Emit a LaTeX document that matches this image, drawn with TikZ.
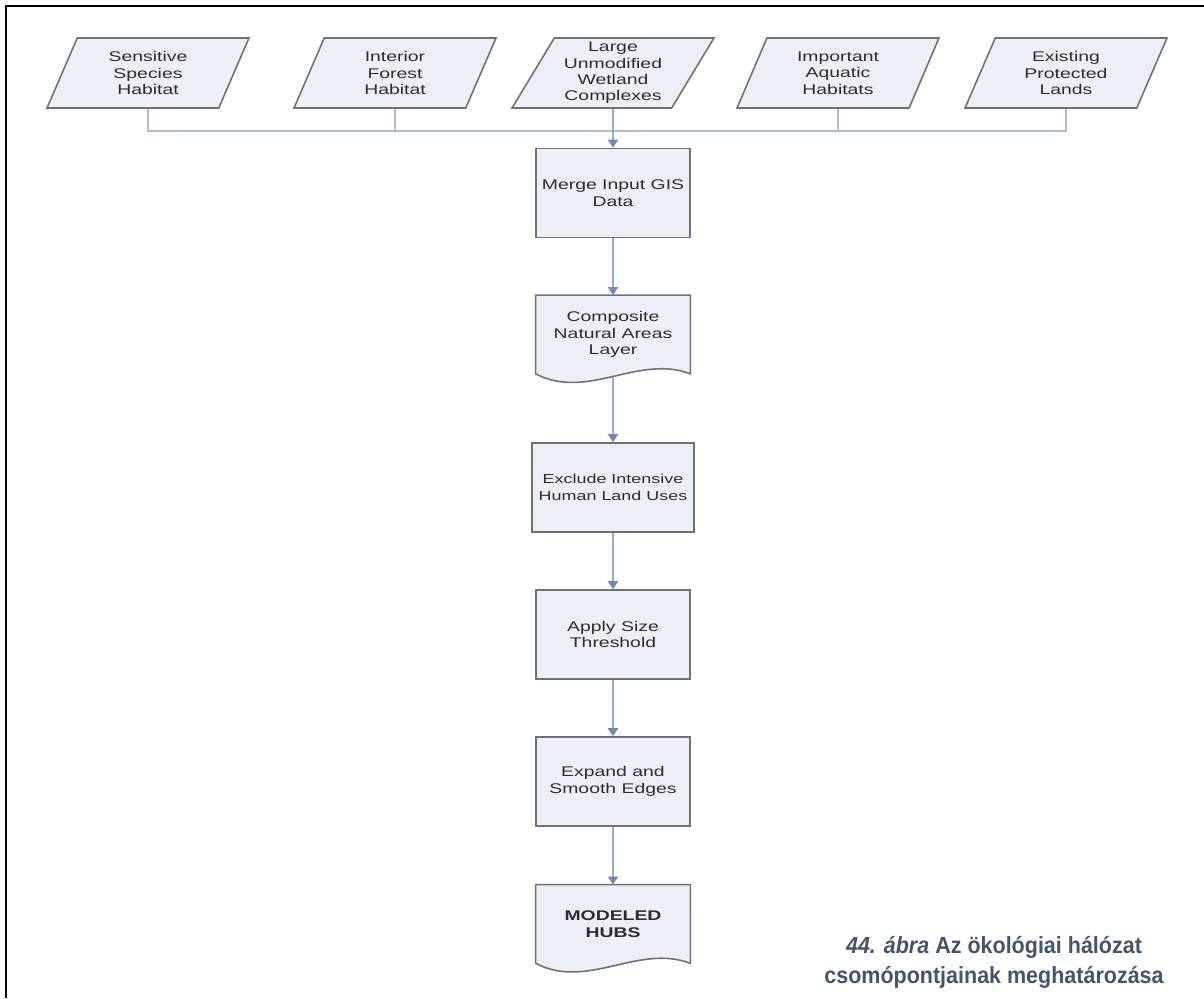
\documentclass[tikz,border=0pt]{standalone}
\usepackage{fontspec}
\usepackage{xcolor}
\usepackage{tikz}
\usetikzlibrary{shapes.geometric, arrows.meta, positioning, calc, backgrounds}
\newfontfamily\boxfont[FakeStretch=1.38]{Liberation Sans}
\newfontfamily\capfont[FakeStretch=0.92]{Liberation Sans}
\definecolor{boxfill}{RGB}{236,239,245}
\definecolor{boxline}{RGB}{112,112,118}
\definecolor{boxtext}{RGB}{45,45,45}
\definecolor{busgray}{RGB}{178,186,200}
\definecolor{flowblue}{RGB}{150,168,210}
\definecolor{flowhead}{RGB}{115,135,185}
\definecolor{capblue}{RGB}{68,84,106}
\tikzset{
  inputnode/.style={trapezium, trapezium left angle=57, trapezium right angle=123,
    trapezium stretches body=true, draw=boxline, fill=boxfill, line width=0.9pt,
    minimum width=4.04cm, minimum height=1.4cm, inner sep=1pt, align=center,
    text=boxtext, font=\boxfont\fontsize{8}{9.3}\selectfont},
  procnode/.style={rectangle, draw=boxline, fill=boxfill, line width=0.9pt,
    minimum width=3.08cm, minimum height=1.78cm, inner sep=2pt, align=center,
    text=boxtext, font=\boxfont\fontsize{8}{9.6}\selectfont},
  docnode/.style={rectangle, minimum width=3.08cm, minimum height=1.56cm,
    inner sep=2pt, align=center, text=boxtext,
    font=\boxfont\fontsize{8}{9.3}\selectfont},
  docshape/.style={draw=boxline, fill=boxfill, line width=0.9pt},
  bus/.style={line width=1.1pt, color=busgray},
  flow/.style={-{Triangle[width=0.2cm, length=0.16cm, color=flowhead]},
    line width=1.1pt, color=flowblue},
  capnode/.style={align=center, text=capblue,
    font=\capfont\bfseries\fontsize{13.3}{17}\selectfont}
}

\begin{document}
\begin{tikzpicture}[x=0.02cm, y=-0.02cm]
  \useasboundingbox (0,0) rectangle (1204,998);

  % Page frame
  \draw[line width=1.5pt] (6,998) -- (6,6) -- (1204,6);

  % Input data layers
  \node[inputnode] (ssh) at (148,73) {Sensitive\\Species\\Habitat};
  \node[inputnode] (ifh) at (395,73) {Interior\\Forest\\Habitat};
  \node[inputnode] (lwc) at (613,73) {Large\\Unmodified\\Wetland\\Complexes};
  \node[inputnode] (iah) at (838,73) {Important\\Aquatic\\Habitats};
  \node[inputnode] (epl) at (1066,73) {Existing\\Protected\\Lands};

  % Processing steps
  \node[procnode] (merge) at (613,193) {Merge Input GIS\\Data};
  \node[docnode] (comp) at (613,334.5) {Composite\\Natural Areas\\Layer};
  \node[procnode, minimum width=3.24cm, font=\boxfont\fontsize{7.4}{9.4}\selectfont]
    (excl) at (613,487.5) {Exclude Intensive\\Human Land Uses};
  \node[procnode] (apply) at (613,634.5) {Apply Size\\Threshold};
  \node[procnode] (expand) at (613,781.5) {Expand and\\Smooth Edges};
  \node[docnode, font=\boxfont\bfseries\fontsize{8}{9.3}\selectfont]
    (hubs) at (613,924) {MODELED\\HUBS};

  % Document outlines with wavy bottom
  \begin{scope}[on background layer]
    \foreach \d in {comp, hubs} {
      \draw[docshape] (\d.south west) -- (\d.north west) -- (\d.north east) -- (\d.south east)
        .. controls +(-52,-20) and +(52,27) .. (\d.south west) -- cycle;
    }
  \end{scope}

  % Collector line
  \coordinate (jn) at (613,131);
  \draw[bus] (ssh.south) |- (jn) -| (epl.south);
  \draw[bus] (ifh.south) -- (ifh.south |- jn);
  \draw[bus] (iah.south) -- (iah.south |- jn);

  % Flow arrows
  \draw[flow] (lwc.south) -- (merge.north);
  \draw[flow] (merge) -- (comp);
  \draw[flow] ($(comp.south)+(0,3)$) -- (excl.north);
  \draw[flow] (excl) -- (apply);
  \draw[flow] (apply) -- (expand);
  \draw[flow] (expand) -- (hubs);

  % Caption
  \node[capnode] (cap) at (994,962)
    {\textit{44. ábra} Az ökológiai hálózat\\csomópontjainak meghatározása};
\end{tikzpicture}
\end{document}
